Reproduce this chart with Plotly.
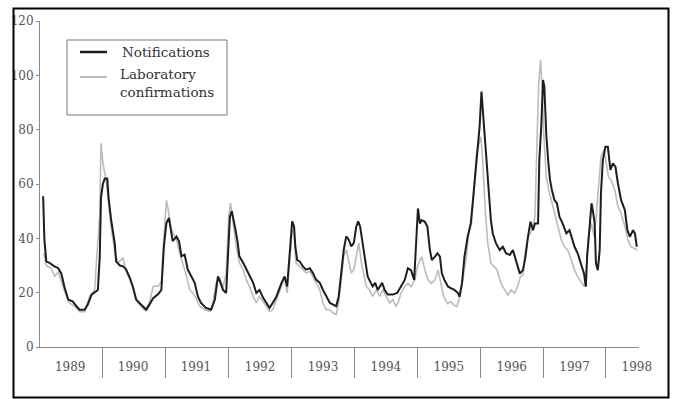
import plotly.graph_objects as go

# ---- data ----
notif_year = [
    1989.05, 1989.07, 1989.10, 1989.15, 1989.23, 1989.29, 1989.34, 1989.39, 1989.45, 1989.52, 1989.58, 1989.63, 1989.71, 1989.76, 1989.82, 1989.87, 1989.92, 1989.95, 1989.97,
    1990.00, 1990.03, 1990.07, 1990.09, 1990.13, 1990.19, 1990.21, 1990.27, 1990.32, 1990.37, 1990.43, 1990.48, 1990.53, 1990.61, 1990.69, 1990.74, 1990.80, 1990.88, 1990.93, 1990.97,
    1991.01, 1991.05, 1991.09, 1991.11, 1991.17, 1991.21, 1991.25, 1991.30, 1991.35, 1991.41, 1991.46, 1991.51, 1991.56, 1991.64, 1991.72, 1991.78, 1991.83, 1991.87, 1991.91, 1991.96, 1991.99,
    1992.02, 1992.05, 1992.08, 1992.11, 1992.14, 1992.17, 1992.23, 1992.28, 1992.33, 1992.39, 1992.44, 1992.49, 1992.55, 1992.60, 1992.65, 1992.70, 1992.76, 1992.84, 1992.89, 1992.93, 1992.97,
    1993.01, 1993.04, 1993.06, 1993.09, 1993.13, 1993.18, 1993.23, 1993.29, 1993.34, 1993.39, 1993.45, 1993.50, 1993.55, 1993.61, 1993.66, 1993.71, 1993.75, 1993.79, 1993.83, 1993.87, 1993.91, 1993.95, 1993.99,
    1994.03, 1994.06, 1994.09, 1994.14, 1994.17, 1994.21, 1994.26, 1994.29, 1994.33, 1994.37, 1994.44, 1994.48, 1994.53, 1994.61, 1994.68, 1994.74, 1994.80, 1994.85, 1994.90, 1994.95, 1994.98,
    1995.01, 1995.04, 1995.07, 1995.12, 1995.16, 1995.20, 1995.23, 1995.28, 1995.32, 1995.36, 1995.39, 1995.43, 1995.49, 1995.54, 1995.59, 1995.65, 1995.67, 1995.71, 1995.75, 1995.80, 1995.85, 1995.88, 1995.92, 1995.96, 1995.99,
    1996.02, 1996.04, 1996.08, 1996.12, 1996.17, 1996.20, 1996.25, 1996.31, 1996.36, 1996.41, 1996.47, 1996.52, 1996.57, 1996.63, 1996.68, 1996.72, 1996.76, 1996.80, 1996.84, 1996.87, 1996.92, 1996.94, 1996.97,
    1997.00, 1997.02, 1997.05, 1997.08, 1997.11, 1997.14, 1997.18, 1997.22, 1997.26, 1997.31, 1997.37, 1997.42, 1997.46, 1997.50, 1997.55, 1997.61, 1997.65, 1997.68, 1997.70, 1997.74, 1997.77, 1997.79, 1997.82, 1997.84, 1997.87, 1997.90, 1997.92, 1997.95, 1997.99,
    1998.03, 1998.07, 1998.11, 1998.15, 1998.19, 1998.24, 1998.30, 1998.34, 1998.38, 1998.43, 1998.46, 1998.49,
]
notif_cases = [
    55.5, 39.5, 31.5, 31, 29.7, 29, 27, 22, 17.4, 16.8, 15, 13.7, 13.7, 15.6, 19.3, 20, 21, 33, 55,
    60, 62, 62, 55, 47, 38, 31.5, 30, 29.7, 28.5, 25.4, 22, 17.4, 15.6, 13.7, 15.6, 18, 19.5, 21, 37,
    45.6, 47.5, 42, 39, 40.7, 39, 33.4, 34, 28.5, 26, 23.6, 18.6, 16.2, 14.4, 13.7, 17.4, 26, 23.6, 21, 19.9, 37,
    48, 50, 46.9, 43, 39, 33.4, 31, 28.5, 26, 23.6, 19.9, 21, 18, 16.2, 14.4, 16.2, 18.6, 23.6, 26, 22.3, 33.4,
    46.3, 44.4, 37, 32, 31.5, 29.7, 28.5, 29, 27.2, 24.8, 23.6, 21, 18.6, 16.2, 15.6, 15, 18.6, 27.2, 35.8, 40.7, 39.5, 37, 38.3,
    44.4, 46.3, 44.4, 37, 31, 26, 23.6, 22.3, 23.6, 21, 23.6, 21, 19.3, 19.3, 19.9, 22.2, 24.7, 29, 28.3, 24.7, 40.6,
    51, 45.5, 46.7, 46.1, 44.3, 35.7, 32, 33.3, 34.5, 33.3, 27.1, 24.7, 22.2, 21.6, 21, 19.8, 18.5, 23.4, 33.3, 40.6, 45.5, 52.9, 62.7, 72.5, 81,
    94, 87.2, 75, 60.2, 46.7, 41.8, 38.2, 35.7, 36.9, 34.5, 33.9, 35.7, 32, 27, 28.3, 33.3, 40.6, 46.1, 43, 45.5, 45.5, 68.8, 81,
    98.3, 95.8, 78.6, 68.8, 61.5, 57.8, 54.1, 52.9, 48, 45.5, 41.8, 43, 39.4, 36.9, 34.5, 29.6, 27.1, 22.2, 33.3, 44.3, 52.9, 50.4, 45.5, 30.8, 28.3, 35.7, 56.6, 68.8, 73.7,
    73.7, 65.2, 67.6, 66.4, 60.2, 54.1, 50.4, 43, 40.6, 43, 41.8, 36.9,
]

lab_year = [
    1989.06, 1989.10, 1989.18, 1989.23, 1989.29, 1989.37, 1989.42, 1989.47, 1989.55, 1989.63, 1989.71, 1989.79, 1989.87, 1989.91, 1989.95, 1989.97,
    1990.00, 1990.05, 1990.09, 1990.13, 1990.19, 1990.24, 1990.32, 1990.37, 1990.45, 1990.51, 1990.56, 1990.66, 1990.74, 1990.80, 1990.88, 1990.93, 1990.97,
    1991.01, 1991.03, 1991.08, 1991.11, 1991.17, 1991.22, 1991.27, 1991.33, 1991.38, 1991.43, 1991.48, 1991.54, 1991.62, 1991.70, 1991.75, 1991.80, 1991.86, 1991.91, 1991.96,
    1992.00, 1992.03, 1992.07, 1992.12, 1992.17, 1992.23, 1992.28, 1992.33, 1992.39, 1992.44, 1992.49, 1992.55, 1992.60, 1992.65, 1992.70, 1992.76, 1992.84, 1992.89, 1992.93, 1992.97,
    1993.01, 1993.04, 1993.07, 1993.13, 1993.18, 1993.23, 1993.29, 1993.34, 1993.39, 1993.45, 1993.50, 1993.55, 1993.61, 1993.66, 1993.71, 1993.75, 1993.79, 1993.83, 1993.87, 1993.91, 1993.95, 1993.99,
    1994.03, 1994.07, 1994.11, 1994.15, 1994.19, 1994.24, 1994.29, 1994.35, 1994.40, 1994.45, 1994.51, 1994.56, 1994.61, 1994.66, 1994.69, 1994.74, 1994.80, 1994.85, 1994.90, 1994.96,
    1995.00, 1995.04, 1995.07, 1995.12, 1995.17, 1995.22, 1995.28, 1995.33, 1995.37, 1995.42, 1995.48, 1995.53, 1995.58, 1995.63, 1995.69, 1995.72, 1995.78, 1995.82, 1995.86, 1995.90, 1995.94, 1995.97,
    1996.01, 1996.04, 1996.08, 1996.12, 1996.17, 1996.22, 1996.27, 1996.33, 1996.39, 1996.44, 1996.49, 1996.55, 1996.60, 1996.64, 1996.68, 1996.72, 1996.76, 1996.80, 1996.84, 1996.87, 1996.90, 1996.93, 1996.96, 1996.98,
    1997.01, 1997.05, 1997.09, 1997.13, 1997.18, 1997.24, 1997.29, 1997.34, 1997.39, 1997.45, 1997.50, 1997.55, 1997.61, 1997.65, 1997.69, 1997.72, 1997.77, 1997.81, 1997.84, 1997.88, 1997.92, 1997.97,
    1998.00, 1998.04, 1998.08, 1998.14, 1998.19, 1998.24, 1998.30, 1998.35, 1998.40, 1998.46, 1998.50,
]
lab_cases = [
    34.6, 30, 29, 26, 27.5, 22, 18.6, 16.2, 15, 13, 13, 18.6, 21, 36, 48, 75,
    67.7, 61.6, 51.8, 44.4, 34.6, 31, 32.8, 27.9, 23.6, 18.6, 16.2, 13.7, 16.2, 22.3, 22.5, 24, 40.7,
    54, 51.8, 44.4, 42, 39.5, 34.6, 31, 26, 21, 19.9, 18, 15, 13.7, 13.1, 16.2, 23.6, 25.4, 22, 27,
    48, 53, 45.6, 37, 31, 28.5, 24.8, 22.3, 18.6, 16.2, 18.6, 16.8, 15, 13.1, 13.7, 17.4, 22.3, 25.4, 19.9, 31,
    43.2, 42, 31, 29.7, 28.5, 27.2, 27.9, 26, 23.6, 21, 16.2, 13.7, 13.7, 12.5, 11.9, 16.2, 26, 33.4, 35.8, 32, 27.2, 28.5,
    33.4, 38.3, 31, 26, 22.3, 21, 18.6, 21, 18.6, 21, 18.6, 16.2, 17.4, 15, 16, 19.8, 22.2, 23.4, 22.2, 24.7,
    29.6, 32, 33.3, 28.3, 24.7, 23.4, 24.7, 28.3, 23.4, 18.5, 16, 16.7, 15.5, 14.8, 19.8, 24.7, 33.3, 41.8, 45.5, 56.6, 71.3, 73.7,
    77.4, 68.8, 50.4, 38.2, 30.8, 29.6, 28.3, 23.4, 21, 19.1, 21, 19.8, 22.8, 25.9, 26.5, 35.7, 40.6, 41.8, 44.3, 48, 72.5, 97, 105.6, 97,
    78.6, 62.7, 57.8, 54.1, 49.2, 44.3, 39.4, 36.9, 35.7, 32, 28.3, 25.9, 23.4, 22.2, 29.6, 40.6, 45.5, 40.6, 46.7, 57.8, 70, 72.5,
    67.6, 62.7, 61.5, 57.8, 51.7, 49.2, 44.3, 39.4, 36.9, 36.3, 35.7,
]

year_labels = ["1989", "1990", "1991", "1992", "1993", "1994", "1995", "1996", "1997", "1998"]
year_label_pos = [1989.48, 1990.48, 1991.48, 1992.5, 1993.5, 1994.5, 1995.5, 1996.5, 1997.5, 1998.49]
year_bounds = [1990, 1991, 1992, 1993, 1994, 1995, 1996, 1997, 1998]
y_ticks = [0, 20, 40, 60, 80, 100, 120]

series_names = ["Notifications", "Laboratory<br>confirmations"]
series_colors = ["#1e1e1e", "#bcbcbc"]
series_widths = [2, 1.6]

FONT = "DejaVu Serif"
AXIS = "#8a8a8a"

W, H = 675, 399
L, R, T, B = 40, 36, 21, 52
pw, ph = W - L - R, H - T - B


def px_to_paper_x(px):
    return (px - L) / pw


def py_to_paper_y(py):
    return (H - B - py) / ph


fig = go.Figure()
fig.add_trace(go.Scatter(
    x=lab_year, y=lab_cases, mode="lines", name=series_names[1], showlegend=False,
    line=dict(color=series_colors[1], width=series_widths[1]),
))
fig.add_trace(go.Scatter(
    x=notif_year, y=notif_cases, mode="lines", name=series_names[0], showlegend=False,
    line=dict(color=series_colors[0], width=series_widths[0]),
))

# legend box drawn as shapes + text (matches the framed legend of the original)
shapes = [
    dict(type="rect", xref="paper", yref="paper",
         x0=px_to_paper_x(67), x1=px_to_paper_x(227),
         y0=py_to_paper_y(115), y1=py_to_paper_y(40),
         line=dict(color="#777", width=1), fillcolor="white", layer="above"),
    dict(type="line", xref="paper", yref="paper",
         x0=px_to_paper_x(80), x1=px_to_paper_x(107),
         y0=py_to_paper_y(52), y1=py_to_paper_y(52),
         line=dict(color=series_colors[0], width=2.5), layer="above"),
    dict(type="line", xref="paper", yref="paper",
         x0=px_to_paper_x(80), x1=px_to_paper_x(107),
         y0=py_to_paper_y(77), y1=py_to_paper_y(77),
         line=dict(color=series_colors[1], width=2), layer="above"),
    # outer frame
    dict(type="rect", xref="paper", yref="paper",
         x0=px_to_paper_x(13.5), x1=px_to_paper_x(668.5),
         y0=py_to_paper_y(397.5), y1=py_to_paper_y(8.5),
         line=dict(color="black", width=2), fillcolor="rgba(0,0,0,0)", layer="above"),
]
annotations = [
    dict(xref="paper", yref="paper", x=px_to_paper_x(120), y=py_to_paper_y(52),
         xanchor="left", yanchor="middle", showarrow=False, text=series_names[0],
         font=dict(family=FONT, size=13.5, color="#333")),
    dict(xref="paper", yref="paper", x=px_to_paper_x(118), y=py_to_paper_y(83),
         xanchor="left", yanchor="middle", showarrow=False, text=series_names[1],
         align="left", font=dict(family=FONT, size=13.5, color="#333")),
]

fig.update_layout(
    width=W, height=H,
    margin=dict(l=L, r=R, t=T, b=B),
    paper_bgcolor="white", plot_bgcolor="white",
    font=dict(family=FONT, size=12, color="#555"),
    showlegend=False,
    xaxis=dict(
        range=[1989.0, 1998.525], showgrid=False, zeroline=False,
        showline=True, linecolor=AXIS, linewidth=1,
        tickmode="array", tickvals=year_label_pos, ticktext=year_labels,
        ticks="", ticklabelstandoff=9,
        tickfont=dict(family=FONT, size=12, color="#555"),
        minor=dict(tickmode="array", tickvals=year_bounds, ticks="outside",
                   ticklen=30, tickcolor=AXIS, tickwidth=1, showgrid=False),
    ),
    yaxis=dict(
        range=[0, 120], showgrid=False, zeroline=False,
        showline=True, linecolor=AXIS, linewidth=1,
        tickmode="array", tickvals=y_ticks,
        ticks="outside", ticklen=3, tickcolor=AXIS,
        tickfont=dict(family=FONT, size=12, color="#555"),
    ),
    shapes=shapes,
    annotations=annotations,
)

fig.write_html("out.html", config={"displayModeBar": False},
               post_script="document.body.style.margin='0px';")
